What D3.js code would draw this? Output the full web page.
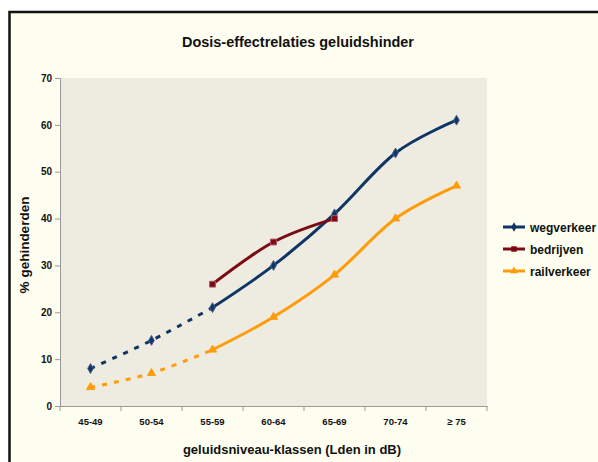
<!DOCTYPE html>
<html><head><meta charset="utf-8">
<script src="https://cdn.jsdelivr.net/npm/d3@7"></script>
<style>body{margin:0;background:#fff}svg{display:block;font-family:Arial,"Liberation Sans",sans-serif}</style>
</head><body><svg id="c" width="598" height="462"></svg>
<script>
const categories = ["45-49","50-54","55-59","60-64","65-69","70-74","≥ 75"];
const wegverkeer = [8,14,21,30,41,54,61];
const bedrijven = [null,null,26,35,40,null,null];
const railverkeer = [4,7,12,19,28,40,47];
const yTicks = [0,10,20,30,40,50,60,70];
const dashedUpTo = 2; // index where dashed part ends

const series = [
  {name:"wegverkeer", values:wegverkeer, color:"#0F3565", marker:"diamond"},
  {name:"bedrijven", values:bedrijven, color:"#7A0A14", marker:"square"},
  {name:"railverkeer", values:railverkeer, color:"#FF9C0A", marker:"triangle"}
];

const svg = d3.select("#c");
svg.append("rect").attr("x",9.5).attr("y",12).attr("width",620).attr("height",480)
  .attr("fill","#FEFEF0").attr("stroke","#111").attr("stroke-width",2.5);

const m = {l:60, r:487, t:78, b:406};
const x = d3.scaleBand().domain(categories).range([m.l,m.r]).padding(0);
const y = d3.scaleLinear().domain([0,70]).range([m.b,m.t]);

svg.append("rect").attr("x",m.l).attr("y",m.t).attr("width",m.r-m.l).attr("height",m.b-m.t).attr("fill","#EEEBE1");

svg.append("text").attr("x",298).attr("y",47).attr("text-anchor","middle")
  .attr("font-size",14.5).attr("font-weight","bold").attr("fill","#111")
  .attr("textLength",232).attr("lengthAdjust","spacingAndGlyphs")
  .text("Dosis-effectrelaties geluidshinder");

// Y axis
const ya = svg.append("g").attr("transform",`translate(${m.l},0)`)
  .call(d3.axisLeft(y).tickValues(yTicks).tickSize(5).tickPadding(3));
ya.select(".domain").attr("stroke","#999");
ya.selectAll(".tick line").attr("stroke","#999");
ya.selectAll("text").attr("font-size",10).attr("font-weight","bold").attr("fill","#111").attr("font-family","Arial, 'Liberation Sans', sans-serif");

// X axis
const xa = svg.append("g").attr("transform",`translate(0,${m.b})`)
  .call(d3.axisBottom(x).tickSize(0).tickPadding(12));
xa.select(".domain").attr("stroke","#999");
xa.selectAll("text").attr("font-size",9.5).attr("font-weight","bold").attr("fill","#111").attr("font-family","Arial, 'Liberation Sans', sans-serif");
const bounds = categories.map(c=>x(c)).concat([m.r]);
xa.selectAll(".bt").data(bounds).enter().append("line").attr("class","bt")
  .attr("x1",d=>d).attr("x2",d=>d).attr("y1",0).attr("y2",5).attr("stroke","#999");

svg.append("text").attr("transform","translate(29,245) rotate(-90)").attr("text-anchor","middle")
  .attr("font-size",13.5).attr("font-weight","bold").attr("fill","#111").text("% gehinderden");
svg.append("text").attr("x",292).attr("y",454).attr("text-anchor","middle")
  .attr("font-size",13).attr("font-weight","bold").attr("fill","#111").text("geluidsniveau-klassen (Lden in dB)");

const cx = i => x(categories[i]) + x.bandwidth()/2;
const line = d3.line().x(d=>cx(d.i)).y(d=>y(d.v)).curve(d3.curveCardinal.tension(0));

function markerPath(type, size){
  const s = {diamond:d3.symbolDiamond, square:d3.symbolSquare, triangle:d3.symbolTriangle}[type];
  return d3.symbol().type(s).size(size)();
}

series.forEach(s=>{
  const pts = s.values.map((v,i)=>({v,i})).filter(d=>d.v!=null);
  const dashed = pts.filter(d=>d.i<=dashedUpTo);
  const solid = pts.filter(d=>d.i>=dashedUpTo);
  if (dashed.length>1) svg.append("path").attr("d",line(dashed)).attr("fill","none")
    .attr("stroke",s.color).attr("stroke-width",3).attr("stroke-dasharray","5,7");
  if (solid.length>1) svg.append("path").attr("d",line(solid)).attr("fill","none")
    .attr("stroke",s.color).attr("stroke-width",3);
  svg.append("g").selectAll("path").data(pts).enter().append("path")
    .attr("transform",d=>`translate(${cx(d.i)},${y(d.v)})`)
    .attr("d",markerPath(s.marker, s.marker==="square"?34:28))
    .attr("fill",s.color)
    .attr("stroke",s.marker==="square"?"#B05070":(s.marker==="diamond"?"#4A5F8A":s.color)).attr("stroke-width",1);
});

// Legend
const lg = svg.append("g");
series.forEach((s,k)=>{
  const yy = 227 + k*22;
  lg.append("line").attr("x1",503).attr("x2",525).attr("y1",yy).attr("y2",yy).attr("stroke",s.color).attr("stroke-width",3);
  lg.append("path").attr("transform",`translate(514,${yy})`).attr("d",markerPath(s.marker, s.marker==="square"?30:26)).attr("fill",s.color);
  lg.append("text").attr("x",530).attr("y",yy+4.5).attr("font-size",12).attr("font-weight","bold").attr("fill","#111").text(s.name);
});
</script></body></html>
